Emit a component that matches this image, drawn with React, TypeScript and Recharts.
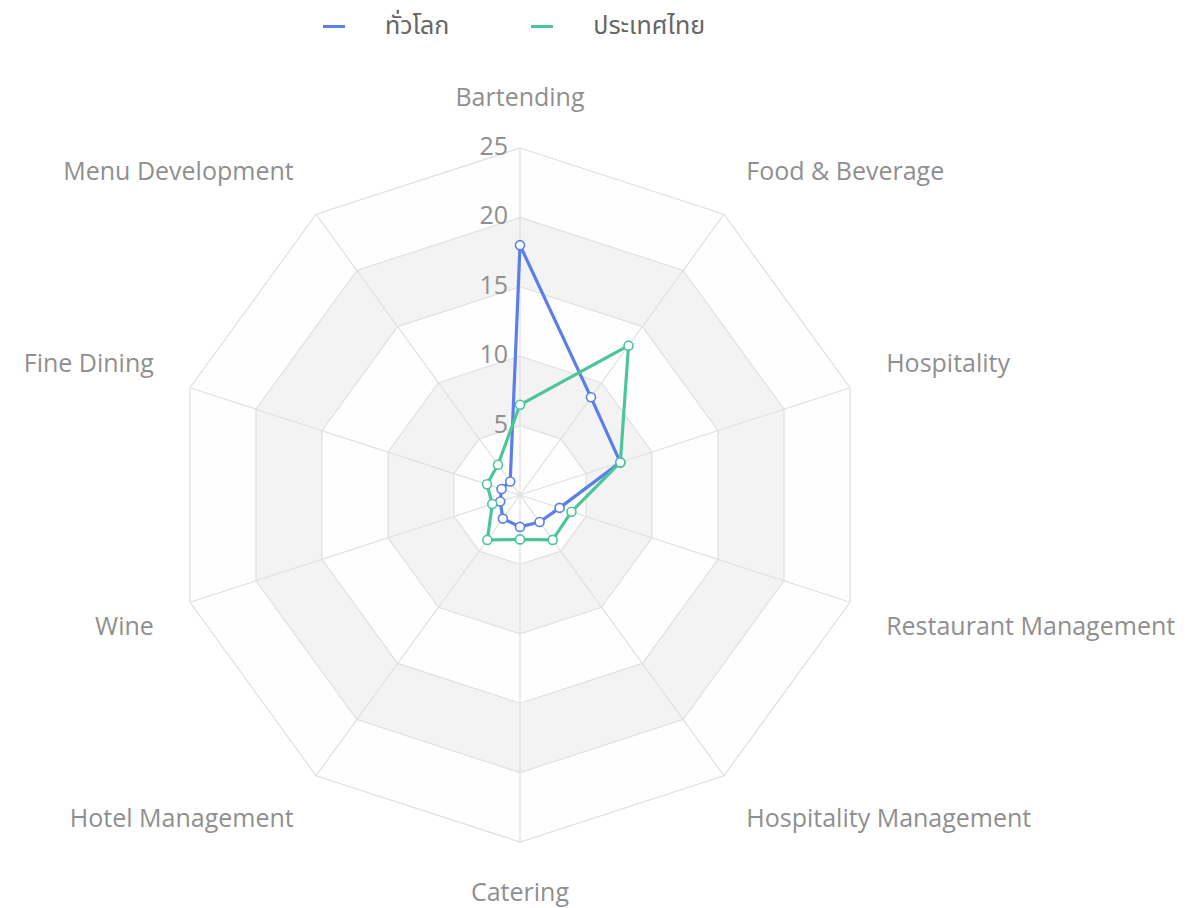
import {
  RadarChart,
  Radar,
  PolarGrid,
  PolarAngleAxis,
  PolarRadiusAxis,
  Legend,
} from "recharts";

const categories = [
  "Bartending",
  "Food & Beverage",
  "Hospitality",
  "Restaurant Management",
  "Hospitality Management",
  "Catering",
  "Hotel Management",
  "Wine",
  "Fine Dining",
  "Menu Development",
];

const worldValues = [18.0, 8.7, 7.6, 3.0, 2.4, 2.3, 2.1, 1.5, 1.4, 1.2];
const thaiValues = [6.5, 13.3, 7.6, 3.9, 4.0, 3.2, 4.0, 2.1, 2.5, 2.7];

const radiusTicks = [0, 5, 10, 15, 20, 25];
const bandLevels = [25, 20, 15, 10, 5];
const bandFills = ["#fefefe", "#f3f3f3", "#fefefe", "#f3f3f3", "#fefefe"];

const series = [
  { key: "world", name: "ทั่วโลก", color: "#5b7ee8" },
  { key: "thai", name: "ประเทศไทย", color: "#4cc598" },
];

const data = categories.map((c, i) => {
  const row: Record<string, string | number> = {
    subject: c,
    world: worldValues[i],
    thai: thaiValues[i],
  };
  bandLevels.forEach((b) => {
    row[`band${b}`] = b;
  });
  return row;
});

const W = 1175;
const H = 900;
const CX = 512;
const CY = 487;
const R = 347;
const FONT = '"Open Sans", "Noto Sans", "Noto Sans Thai", sans-serif';
const TEXT = "#8f8f8f";
const FS = 25;

function AngleTick(props: any) {
  const { payload } = props;
  const a = (payload.coordinate * Math.PI) / 180;
  const cos = Math.cos(a);
  const sin = Math.sin(a);
  const x = CX + (R + 38) * cos;
  const y = CY - (R + 38) * sin - (sin > 0 ? 14 : -11);
  const anchor = cos > 0.01 ? "start" : cos < -0.01 ? "end" : "middle";
  return (
    <text
      x={x}
      y={y}
      textAnchor={anchor}
      dominantBaseline="central"
      fill={TEXT}
      fontSize={FS}
      fontFamily={FONT}
    >
      {payload.value}
    </text>
  );
}

function RadiusTick(props: any) {
  const { x, y, payload } = props;
  if (payload.value === 0) return null;
  return (
    <text
      x={x - 12}
      y={y - 3}
      textAnchor="end"
      dominantBaseline="central"
      fill={TEXT}
      fontSize={FS}
      fontFamily={FONT}
    >
      {payload.value}
    </text>
  );
}

function LegendContent() {
  return (
    <div style={{ display: "flex", alignItems: "center", fontFamily: FONT }}>
      {series.map((s, i) => (
        <div
          key={s.key}
          style={{ display: "flex", alignItems: "center", marginRight: i === 0 ? 82 : 0 }}
        >
          <div style={{ width: 22, height: 3, background: s.color, marginRight: 40 }} />
          <span style={{ fontSize: FS, color: "#666" }}>{s.name}</span>
        </div>
      ))}
    </div>
  );
}

export default function App() {
  return (
    <div style={{ width: W, height: H }}>
      <RadarChart
        width={W}
        height={H}
        data={data}
        cx={CX}
        cy={CY}
        outerRadius={R}
        margin={{ top: 0, right: 0, bottom: 0, left: 0 }}
        style={{ overflow: "visible" }}
      >
        {bandLevels.map((b, i) => (
          <Radar
            key={b}
            dataKey={`band${b}`}
            stroke="none"
            fill={bandFills[i]}
            fillOpacity={1}
            dot={false}
            legendType="none"
            zIndex={-200 + i}
            isAnimationActive={false}
          />
        ))}
        <PolarGrid gridType="polygon" stroke="#e0e0e0" strokeWidth={1.2} zIndex={-100} />
        <PolarAngleAxis dataKey="subject" tick={<AngleTick />} tickLine={false} axisLine={false} />
        <PolarRadiusAxis
          angle={90}
          domain={[0, 25]}
          ticks={radiusTicks as any}
          tick={<RadiusTick />}
          axisLine={false}
          tickLine={false}
        />
        {series.map((s) => (
          <Radar
            key={s.key}
            name={s.name}
            dataKey={s.key}
            stroke={s.color}
            strokeWidth={3.2}
            fill="none"
            fillOpacity={0}
            dot={{ r: 4.5, fill: "#fff", stroke: s.color, strokeWidth: 1.6, fillOpacity: 1 }}
            isAnimationActive={false}
          />
        ))}
        <Legend
          verticalAlign="top"
          content={<LegendContent />}
          wrapperStyle={{ top: -1, left: 315, width: 480 }}
        />
      </RadarChart>
    </div>
  );
}
